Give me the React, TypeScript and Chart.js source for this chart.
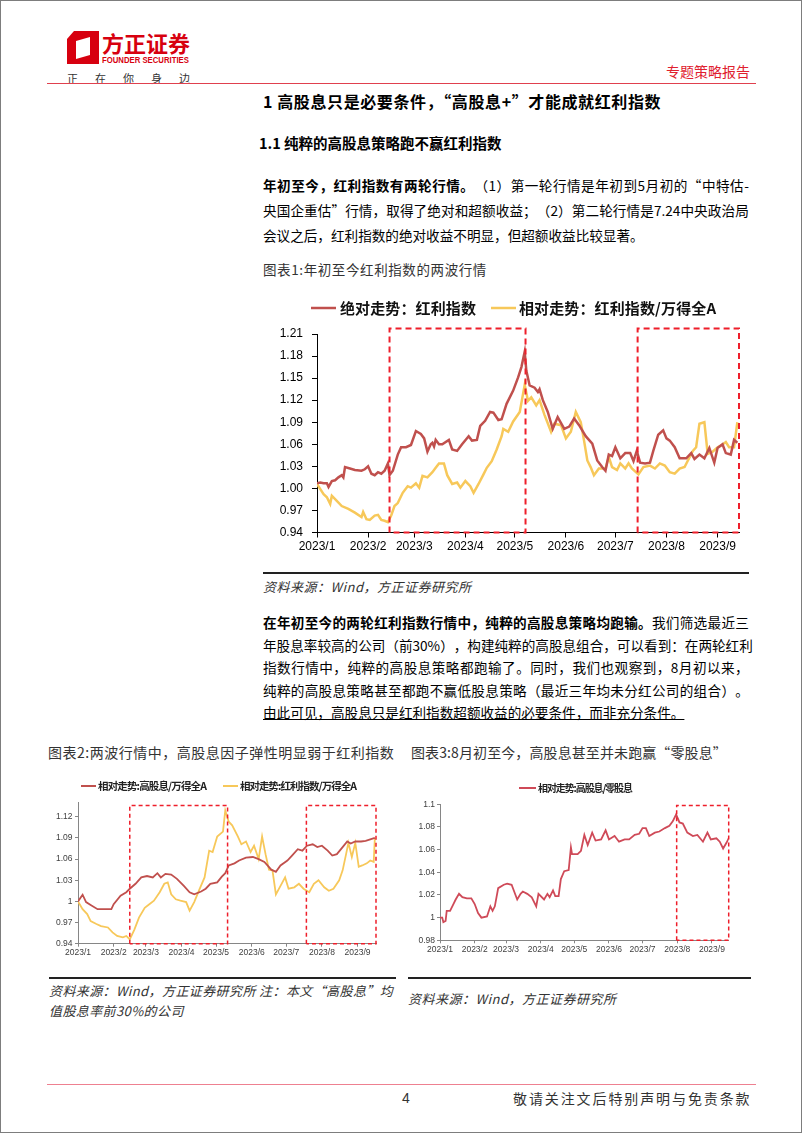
import React, { useEffect, useRef } from 'react';
import { Chart, registerables } from 'chart.js';
Chart.register(...registerables);

// ---------- shared axis data ----------
const monthDays = [0, 31, 59, 90, 120, 151, 181, 212, 243];
const monthLabels = ['2023/1', '2023/2', '2023/3', '2023/4', '2023/5', '2023/6', '2023/7', '2023/8', '2023/9'];

// ---------- chart 1 ----------
const c1Labels = ['绝对走势：红利指数', '相对走势：红利指数/万得全A'];
const c1AbsDays = [0, 2, 4, 6, 7, 9, 11, 13, 15, 16, 17, 20, 23, 27, 29, 31, 33, 35, 37, 39, 41, 43, 44, 46, 49, 51, 54, 57, 60, 63, 65, 67, 69, 70, 71, 72, 74, 76, 80, 82, 85, 88, 92, 94, 97, 99, 102, 105, 107, 110, 112, 115, 119, 122, 124, 126, 127, 129, 132, 134, 135, 137, 140, 143, 146, 150, 153, 156, 159, 163, 167, 170, 173, 175, 177, 179, 181, 184, 187, 190, 192, 194, 196, 199, 202, 204, 207, 210, 212, 214, 217, 220, 224, 227, 229, 232, 235, 238, 241, 243, 246, 248, 251, 253, 255];
const c1AbsValues = [1.007, 1.008, 1.007, 1.007, 1.002, 1.01, 1.011, 1.015, 1.018, 1.015, 1.029, 1.027, 1.025, 1.024, 1.026, 1.03, 1.02, 1.018, 1.022, 1.02, 1.024, 1.034, 1.018, 1.024, 1.046, 1.056, 1.056, 1.059, 1.078, 1.074, 1.068, 1.05, 1.06, 1.062, 1.057, 1.066, 1.06, 1.06, 1.066, 1.053, 1.051, 1.06, 1.071, 1.065, 1.066, 1.085, 1.092, 1.104, 1.103, 1.093, 1.094, 1.115, 1.133, 1.151, 1.165, 1.186, 1.16, 1.14, 1.137, 1.131, 1.135, 1.12, 1.104, 1.081, 1.097, 1.081, 1.084, 1.095, 1.086, 1.071, 1.061, 1.038, 1.029, 1.024, 1.046, 1.044, 1.056, 1.041, 1.048, 1.048, 1.037, 1.051, 1.035, 1.034, 1.035, 1.051, 1.073, 1.079, 1.068, 1.065, 1.056, 1.041, 1.041, 1.048, 1.04, 1.046, 1.041, 1.055, 1.035, 1.055, 1.06, 1.048, 1.046, 1.066, 1.062];
const c1RelDays = [0, 2, 4, 6, 8, 9, 12, 15, 19, 23, 27, 28, 30, 32, 35, 37, 39, 41, 43, 45, 47, 49, 52, 55, 57, 60, 62, 64, 67, 70, 72, 74, 77, 79, 82, 85, 87, 90, 93, 95, 98, 101, 103, 106, 109, 112, 113, 116, 119, 123, 126, 128, 130, 133, 135, 138, 142, 144, 148, 151, 154, 157, 160, 162, 164, 166, 168, 171, 175, 177, 179, 182, 184, 187, 189, 191, 195, 198, 202, 205, 208, 211, 214, 217, 220, 223, 225, 228, 230, 232, 235, 237, 240, 243, 245, 248, 250, 253, 255];
const c1RelValues = [1.006, 0.999, 0.992, 0.988, 0.979, 0.99, 0.983, 0.976, 0.972, 0.967, 0.961, 0.968, 0.958, 0.957, 0.963, 0.964, 0.957, 0.956, 0.954, 0.963, 0.976, 0.98, 0.994, 1.003, 1.001, 1.007, 1.001, 1.017, 1.015, 1.022, 1.028, 1.034, 1.034, 1.018, 1.006, 1.008, 1.001, 1.01, 1.003, 0.994, 1.006, 1.019, 1.028, 1.037, 1.053, 1.071, 1.081, 1.077, 1.091, 1.104, 1.141, 1.119, 1.124, 1.113, 1.12, 1.1, 1.077, 1.088, 1.086, 1.068, 1.077, 1.104, 1.09, 1.065, 1.038, 1.029, 1.018, 1.027, 1.027, 1.043, 1.029, 1.025, 1.034, 1.027, 1.034, 1.027, 1.019, 1.029, 1.031, 1.027, 1.034, 1.031, 1.022, 1.02, 1.027, 1.029, 1.038, 1.051, 1.056, 1.088, 1.09, 1.047, 1.05, 1.056, 1.058, 1.063, 1.056, 1.056, 1.09];
const c1YTicks = [0.94, 0.97, 1.0, 1.03, 1.06, 1.09, 1.12, 1.15, 1.18, 1.21];
const c1YTickLabels = ['0.94', '0.97', '1.00', '1.03', '1.06', '1.09', '1.12', '1.15', '1.18', '1.21'];
const c1BoxStart = [44, 194.5];
const c1BoxEnd = [126.5, 256];

// ---------- chart 2 ----------
const c2Labels = ['相对走势:高股息/万得全A', '相对走势:红利指数/万得全A'];
const c2HighDays = [0, 4, 7, 11, 17, 23, 29, 31, 37, 42, 45, 50, 55, 60, 65, 69, 72, 76, 81, 86, 92, 97, 101, 107, 111, 115, 121, 125, 128, 131, 136, 140, 146, 152, 157, 162, 168, 172, 176, 182, 186, 191, 195, 199, 204, 208, 212, 217, 221, 225, 230, 234, 237, 241, 246, 250, 254, 258];
const c2HighValues = [1.0, 1.0095, 0.999, 0.995, 0.989, 0.989, 0.989, 0.996, 1.008, 1.013, 1.018, 1.025, 1.034, 1.036, 1.034, 1.04, 1.034, 1.039, 1.038, 1.032, 1.022, 1.013, 1.01, 1.014, 1.018, 1.025, 1.027, 1.035, 1.04, 1.051, 1.054, 1.058, 1.062, 1.063, 1.06, 1.056, 1.045, 1.042, 1.051, 1.058, 1.065, 1.074, 1.072, 1.079, 1.081, 1.077, 1.079, 1.072, 1.065, 1.067, 1.077, 1.085, 1.082, 1.085, 1.085, 1.086, 1.088, 1.09];
const c2DivDays = [0, 4, 8, 11, 16, 20, 26, 30, 34, 39, 42, 45, 49, 53, 58, 62, 66, 71, 75, 78, 81, 85, 89, 94, 97, 101, 105, 110, 114, 117, 121, 126, 128, 131, 134, 139, 142, 146, 150, 153, 157, 160, 163, 166, 169, 172, 176, 180, 183, 188, 192, 196, 201, 205, 209, 214, 218, 222, 227, 230, 233, 235, 238, 241, 244, 247, 251, 254, 257, 258];
const c2DivValues = [1.0, 0.989, 0.982, 0.972, 0.968, 0.965, 0.963, 0.956, 0.951, 0.949, 0.951, 0.946, 0.96, 0.977, 0.991, 0.996, 1.001, 1.013, 1.025, 1.027, 1.01, 1.003, 1.001, 0.999, 0.987, 0.999, 1.015, 1.034, 1.072, 1.07, 1.092, 1.099, 1.129, 1.113, 1.108, 1.092, 1.081, 1.085, 1.07, 1.079, 1.06, 1.092, 1.067, 1.045, 1.044, 1.01, 1.022, 1.034, 1.018, 1.02, 1.025, 1.018, 1.013, 1.025, 1.03, 1.02, 1.015, 1.018, 1.03, 1.044, 1.067, 1.083, 1.063, 1.083, 1.049, 1.051, 1.054, 1.058, 1.056, 1.09];
const c2YTicks = [0.94, 0.97, 1.0, 1.03, 1.06, 1.09, 1.12];
const c2YTickLabels = ['0.94', '0.97', '1', '1.03', '1.06', '1.09', '1.12'];
const c2BoxStart = [45, 198.5];
const c2BoxEnd = [130, 259];

// ---------- chart 3 ----------
const c3Labels = ['相对走势:高股息/零股息'];
const c3Days = [0, 2, 3, 5, 6, 9, 12, 14, 17, 20, 24, 28, 31, 34, 37, 42, 45, 47, 49, 52, 57, 60, 64, 69, 72, 74, 78, 82, 86, 88, 93, 96, 98, 101, 103, 106, 108, 111, 115, 117, 118, 123, 126, 129, 132, 136, 139, 144, 148, 151, 156, 160, 165, 169, 174, 178, 181, 184, 187, 192, 196, 201, 205, 208, 211, 214, 217, 221, 226, 230, 235, 239, 242, 247, 250, 253, 256, 258];
const c3Values = [1.0, 1.0, 0.996, 0.997, 1.006, 1.006, 1.012, 1.016, 1.021, 1.018, 1.017, 1.017, 1.012, 1.004, 1.0, 1.001, 1.01, 1.006, 1.01, 1.026, 1.029, 1.03, 1.029, 1.016, 1.021, 1.023, 1.021, 1.018, 1.01, 1.021, 1.016, 1.021, 1.018, 1.024, 1.019, 1.019, 1.034, 1.041, 1.042, 1.062, 1.056, 1.056, 1.059, 1.073, 1.064, 1.075, 1.068, 1.069, 1.077, 1.069, 1.072, 1.067, 1.069, 1.069, 1.073, 1.074, 1.079, 1.079, 1.072, 1.075, 1.076, 1.079, 1.081, 1.085, 1.091, 1.084, 1.083, 1.075, 1.072, 1.073, 1.067, 1.075, 1.069, 1.07, 1.067, 1.061, 1.066, 1.07];
const c3YTicks = [0.98, 1.0, 1.02, 1.04, 1.06, 1.08, 1.1];
const c3YTickLabels = ['0.98', '1', '1.02', '1.04', '1.06', '1.08', '1.1'];
const c3BoxStart = [211.5];
const c3BoxEnd = [258];

const CJK = '"Noto Sans CJK SC", "Liberation Sans", sans-serif';
const LAT = '"Liberation Sans", Arial, sans-serif';
const RED1 = '#C0504D';
const YEL = '#F7C85A';
const RED3 = '#CF4A58';
const BOXRED = '#EE1F2B';

type Item = { x1: number; x2: number; tx: number; tw: number };

function legendPlugin(y: number, font: string, color: string, lw: number, items: Item[]) {
  return {
    id: 'lineLegend',
    afterDraw(chart: any) {
      const ctx = chart.ctx;
      ctx.save();
      ctx.font = font;
      ctx.textBaseline = 'middle';
      items.forEach((it, i) => {
        const ds = chart.data.datasets[i];
        ctx.strokeStyle = ds.borderColor;
        ctx.lineWidth = lw;
        ctx.setLineDash([]);
        ctx.beginPath();
        ctx.moveTo(it.x1, y);
        ctx.lineTo(it.x2, y);
        ctx.stroke();
        const chars = Array.from(ds.label as string);
        const widths = chars.map((c) => ctx.measureText(c).width);
        const total = widths.reduce((a, b) => a + b, 0);
        const gap = chars.length > 1 ? (it.tw - total) / (chars.length - 1) : 0;
        let x = it.tx;
        ctx.fillStyle = color;
        chars.forEach((c, k) => {
          ctx.fillText(c, x, y);
          x += widths[k] + gap;
        });
      });
      ctx.restore();
    },
  };
}

function boxPlugin(starts: number[], ends: number[], top: number, lw: number, dash: number[]) {
  return {
    id: 'dashBoxes',
    afterDatasetsDraw(chart: any) {
      const { ctx } = chart;
      const xs = chart.scales.x;
      const ys = chart.scales.y;
      ctx.save();
      ctx.strokeStyle = BOXRED;
      ctx.lineWidth = lw;
      ctx.setLineDash(dash);
      starts.forEach((s, i) => {
        const x1 = xs.getPixelForValue(s);
        const x2 = xs.getPixelForValue(ends[i]);
        const y1 = ys.getPixelForValue(top);
        const y2 = ys.getPixelForValue(ys.min);
        ctx.beginPath();
        ctx.moveTo(x1, y2);
        ctx.lineTo(x1, y1);
        ctx.lineTo(x2, y1);
        ctx.lineTo(x2, y2);
        ctx.lineTo(x1, y2);
        ctx.stroke();
      });
      ctx.restore();
    },
  };
}

type Cfg = {
  left: number; top: number; width: number; height: number;
  series: { label: string; days: number[]; values: number[]; color: string; lw: number }[];
  xMax: number; yMin: number; yMax: number; yTicks: number[]; yLabels: string[];
  padTop: number; padRight: number; yAxisW: number; xAxisH: number;
  fontSize: number; tickColor: string; axisColor: string; tickLen: number; yPad: number; xPad: number;
  plugins: any[];
};

function LineChart({ cfg }: { cfg: Cfg }) {
  const ref = useRef<HTMLCanvasElement>(null);
  useEffect(() => {
    if (!ref.current) return;
    const font = { family: LAT, size: cfg.fontSize };
    const chart = new Chart(ref.current, {
      type: 'line',
      data: {
        datasets: cfg.series.map((s) => ({
          label: s.label,
          data: s.days.map((d, i) => ({ x: d, y: s.values[i] })),
          borderColor: s.color,
          backgroundColor: s.color,
          borderWidth: s.lw,
          pointRadius: 0,
          tension: 0,
          fill: false,
        })),
      },
      options: {
        responsive: false,
        animation: false,
        maintainAspectRatio: false,
        layout: { padding: { top: cfg.padTop, right: cfg.padRight, left: 0, bottom: 0 } },
        plugins: { legend: { display: false }, tooltip: { enabled: false }, title: { display: false } },
        scales: {
          x: {
            type: 'linear',
            min: 0,
            max: cfg.xMax,
            afterBuildTicks: (s: any) => { s.ticks = monthDays.map((v) => ({ value: v })); },
            afterFit: (s: any) => { s.height = cfg.xAxisH; },
            ticks: {
              autoSkip: false, maxRotation: 0, minRotation: 0,
              font, color: cfg.tickColor, padding: cfg.xPad,
              callback: (v: any) => { const i = monthDays.indexOf(Number(v)); return i >= 0 ? monthLabels[i] : ''; },
            },
            grid: { display: true, drawOnChartArea: false, drawTicks: true, tickLength: cfg.tickLen, color: cfg.axisColor, lineWidth: 1 },
            border: { display: true, color: cfg.axisColor, width: 1 },
          },
          y: {
            type: 'linear',
            min: cfg.yMin,
            max: cfg.yMax,
            afterBuildTicks: (s: any) => { s.ticks = cfg.yTicks.map((v) => ({ value: v })); },
            afterFit: (s: any) => { s.width = cfg.yAxisW; },
            ticks: {
              autoSkip: false, font, color: cfg.tickColor, padding: cfg.yPad,
              callback: (v: any) => { const i = cfg.yTicks.findIndex((t) => Math.abs(t - Number(v)) < 1e-6); return i >= 0 ? cfg.yLabels[i] : ''; },
            },
            grid: { display: true, drawOnChartArea: false, drawTicks: true, tickLength: cfg.tickLen, color: cfg.axisColor, lineWidth: 1 },
            border: { display: true, color: cfg.axisColor, width: 1 },
          },
        },
      } as any,
      plugins: cfg.plugins,
    });
    return () => chart.destroy();
  }, []);
  return (
    <canvas
      ref={ref}
      width={cfg.width}
      height={cfg.height}
      style={{ position: 'absolute', left: cfg.left, top: cfg.top, width: cfg.width, height: cfg.height }}
    />
  );
}

const chart1: Cfg = {
  left: 262, top: 290, width: 490, height: 275,
  series: [
    { label: c1Labels[0], days: c1AbsDays, values: c1AbsValues, color: RED1, lw: 2.5 },
    { label: c1Labels[1], days: c1RelDays, values: c1RelValues, color: YEL, lw: 2.5 },
  ],
  xMax: 256, yMin: 0.94, yMax: 1.21, yTicks: c1YTicks, yLabels: c1YTickLabels,
  padTop: 43, padRight: 14, yAxisW: 54, xAxisH: 33.5,
  fontSize: 12, tickColor: '#000', axisColor: '#000', tickLen: 5, yPad: 9, xPad: 2,
  plugins: [
    legendPlugin(17, `bold 15px ${CJK}`, '#111', 2.5, [
      { x1: 48, x2: 73, tx: 77, tw: 136 },
      { x1: 228, x2: 253, tx: 256, tw: 197 },
    ]),
    boxPlugin(c1BoxStart, c1BoxEnd, 1.2175, 2, [6, 4]),
  ],
};

const chart2: Cfg = {
  left: 45, top: 775, width: 355, height: 190,
  series: [
    { label: c2Labels[0], days: c2HighDays, values: c2HighValues, color: RED1, lw: 1.8 },
    { label: c2Labels[1], days: c2DivDays, values: c2DivValues, color: YEL, lw: 1.8 },
  ],
  xMax: 259, yMin: 0.94, yMax: 1.14, yTicks: c2YTicks, yLabels: c2YTickLabels,
  padTop: 26.7, padRight: 25, yAxisW: 32, xAxisH: 22.3,
  fontSize: 8.5, tickColor: '#404040', axisColor: '#868686', tickLen: 3, yPad: 2.5, xPad: 1.2,
  plugins: [
    legendPlugin(10, `bold 10.5px ${CJK}`, '#222', 2, [
      { x1: 35, x2: 50, tx: 52, tw: 109 },
      { x1: 177, x2: 192, tx: 194, tw: 117 },
    ]),
    boxPlugin(c2BoxStart, c2BoxEnd, 1.136, 1.5, [4, 3]),
  ],
};

const chart3: Cfg = {
  left: 410, top: 775, width: 345, height: 185,
  series: [{ label: c3Labels[0], days: c3Days, values: c3Values, color: RED3, lw: 1.8 }],
  xMax: 258, yMin: 0.98, yMax: 1.1, yTicks: c3YTicks, yLabels: c3YTickLabels,
  padTop: 28.3, padRight: 27.3, yAxisW: 29, xAxisH: 20.7,
  fontSize: 8.5, tickColor: '#404040', axisColor: '#868686', tickLen: 3, yPad: 2, xPad: 1.6,
  plugins: [
    legendPlugin(12, `bold 10px ${CJK}`, '#222', 2, [{ x1: 108, x2: 125, tx: 127, tw: 95 }]),
    boxPlugin(c3BoxStart, c3BoxEnd, 1.099, 1.5, [4, 3]),
  ],
};

function Txt(props: { x: number; y: number; size: number; children: any; weight?: number; italic?: boolean; color?: string; ls?: number; family?: string; style?: any }) {
  const { x, y, size, children, weight = 400, italic = false, color = '#000', ls = 0, family = CJK, style = {} } = props;
  const lh = Math.round(size * 1.5);
  return (
    <div
      style={{
        position: 'absolute', left: x, top: y - lh / 2, height: lh, lineHeight: `${lh}px`,
        fontSize: size, fontWeight: weight, fontStyle: italic ? 'italic' : 'normal', color,
        letterSpacing: ls, fontFamily: family, whiteSpace: 'nowrap', ...style,
      }}
    >
      {children}
    </div>
  );
}

function JustLine({ x, y, w, size, segs }: { x: number; y: number; w: number; size: number; segs: { t: string; b?: boolean }[] }) {
  const tokens: { t: string; b?: boolean }[] = [];
  segs.forEach((s) => {
    (s.t.match(/[A-Za-z0-9.%+]+|\S/gu) || []).forEach((t) => tokens.push({ t, b: s.b }));
  });
  const lh = Math.round(size * 1.5);
  return (
    <div
      style={{
        position: 'absolute', left: x, top: y - lh / 2, width: w, height: lh, display: 'flex',
        justifyContent: 'space-between', alignItems: 'center', fontSize: size, fontFamily: CJK, color: '#000',
        whiteSpace: 'nowrap',
      }}
    >
      {tokens.map((k, i) => (
        <span key={i} style={{ fontWeight: k.b ? 700 : 400 }}>{k.t}</span>
      ))}
    </div>
  );
}

export default function App() {
  const P = 13.6;
  return (
    <div
      style={{
        position: 'absolute', left: 0, top: 0, width: 802, height: 1133, background: '#fff',
        border: '1px solid #7d7d7d', boxSizing: 'border-box', overflow: 'hidden', fontFamily: CJK,
      }}
    >
      {/* header */}
      <svg width={32} height={33} style={{ position: 'absolute', left: 66, top: 30 }}>
        <path d="M7 0 H32 V33 H0 V8 Z" fill="#D7000F" />
        <path d="M9 10 L23 6 V24 L9 28 Z" fill="#fff" />
      </svg>
      <Txt x={101} y={41} size={22} weight={700} color="#D7000F" ls={0}>方正证券</Txt>
      <div style={{ position: 'absolute', left: 101, top: 54, fontFamily: LAT, fontSize: 9, fontWeight: 700, color: '#D7000F', whiteSpace: 'nowrap', transform: 'scaleX(0.86)', transformOrigin: 'left top' }}>FOUNDER SECURITIES</div>
      <Txt x={66} y={77} size={11} color="#333" ls={17}>正在你身边</Txt>
      <Txt x={665} y={70} size={14} color="#E0202E" ls={0}>专题策略报告</Txt>
      <div style={{ position: 'absolute', left: 46, top: 81.5, width: 709, height: 1.5, background: '#E0404E' }} />

      {/* section headings */}
      <Txt x={262} y={100} size={16} weight={700} ls={0.6}>1 高股息只是必要条件，“高股息+”才能成就红利指数</Txt>
      <Txt x={258} y={142} size={14.5} weight={700}>1.1 纯粹的高股息策略跑不赢红利指数</Txt>

      <JustLine x={262} y={184} w={486} size={P} segs={[{ t: '年初至今，红利指数有两轮行情。', b: true }, { t: '（1）第一轮行情是年初到 5 月初的“中特估-' }]} />
      <JustLine x={262} y={209} w={486} size={P} segs={[{ t: '央国企重估”行情，取得了绝对和超额收益；（2）第二轮行情是 7.24 中央政治局' }]} />
      <Txt x={262} y={234} size={P}>会议之后，红利指数的绝对收益不明显，但超额收益比较显著。</Txt>

      <Txt x={262} y={268} size={13.5} color="#333" ls={0.6}>图表1:年初至今红利指数的两波行情</Txt>

      <LineChart cfg={chart1} />

      <div style={{ position: 'absolute', left: 262, top: 571, width: 486, height: 2, background: '#222' }} />
      <Txt x={262} y={586} size={13} italic color="#333" ls={0.5}>资料来源：Wind，方正证券研究所</Txt>

      <JustLine x={262} y={621} w={486} size={P} segs={[{ t: '在年初至今的两轮红利指数行情中，纯粹的高股息策略均跑输。', b: true }, { t: '我们筛选最近三' }]} />
      <JustLine x={262} y={643.5} w={486} size={P} segs={[{ t: '年股息率较高的公司（前 30%），构建纯粹的高股息组合，可以看到：在两轮红利' }]} />
      <JustLine x={262} y={666} w={486} size={P} segs={[{ t: '指数行情中，纯粹的高股息策略都跑输了。同时，我们也观察到，8 月初以来，' }]} />
      <JustLine x={262} y={688.5} w={486} size={P} segs={[{ t: '纯粹的高股息策略甚至都跑不赢低股息策略（最近三年均未分红公司的组合）。' }]} />
      <Txt x={262} y={711} size={P} style={{ textDecoration: 'underline' }}>由此可见，高股息只是红利指数超额收益的必要条件，而非充分条件。</Txt>

      {/* bottom charts */}
      <Txt x={47} y={751} size={14} color="#333" ls={0.5}>图表2:两波行情中，高股息因子弹性明显弱于红利指数</Txt>
      <Txt x={410} y={751} size={14} color="#333" ls={0.1}>图表3:8月初至今，高股息甚至并未跑赢“零股息”</Txt>

      <LineChart cfg={chart2} />
      <LineChart cfg={chart3} />

      <div style={{ position: 'absolute', left: 48, top: 976, width: 347, height: 2, background: '#222' }} />
      <div style={{ position: 'absolute', left: 407, top: 976, width: 343, height: 2, background: '#222' }} />
      <Txt x={48} y={990} size={13} italic color="#333" ls={0.4}>资料来源：Wind，方正证券研究所 注：本文“高股息”均</Txt>
      <Txt x={48} y={1010} size={13} italic color="#333" ls={0.4}>值股息率前30%的公司</Txt>
      <Txt x={407} y={998} size={13} italic color="#333" ls={0.5}>资料来源：Wind，方正证券研究所</Txt>

      {/* footer */}
      <div style={{ position: 'absolute', left: 46, top: 1083, width: 709, height: 1, background: '#EE8090' }} />
      <Txt x={401} y={1097} size={14} color="#333" family={LAT}>4</Txt>
      <Txt x={512} y={1097} size={14} color="#333" ls={1.9}>敬请关注文后特别声明与免责条款</Txt>
    </div>
  );
}
